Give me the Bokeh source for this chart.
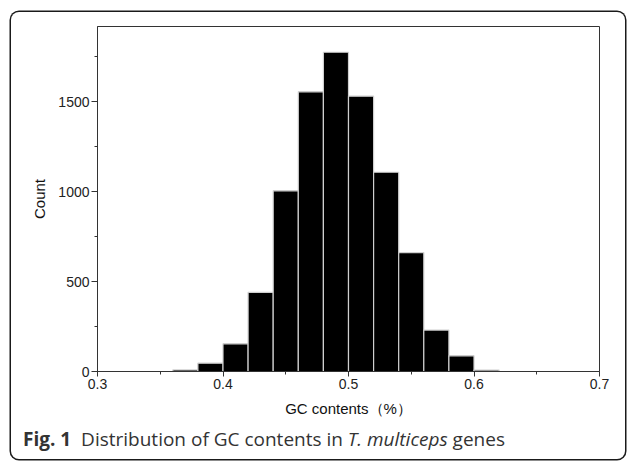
from bokeh.plotting import figure
from bokeh.layouts import column
from bokeh.models import FixedTicker, Range1d, ColumnDataSource, Div
from bokeh.embed import file_html
from bokeh.resources import INLINE

# ---- data ----
bin_left = [0.36, 0.38, 0.40, 0.42, 0.44, 0.46, 0.48, 0.50, 0.52, 0.54, 0.56, 0.58, 0.60]
bin_width = 0.02
counts = [9, 46, 154, 440, 1004, 1554, 1774, 1530, 1107, 661, 230, 87, 8]

x_ticks = [0.3, 0.4, 0.5, 0.6, 0.7]
x_tick_labels = ["0.3", "0.4", "0.5", "0.6", "0.7"]
x_minor = [0.35, 0.45, 0.55, 0.65]
y_ticks = [0, 500, 1000, 1500]
y_tick_labels = ["0", "500", "1000", "1500"]
y_minor = [250, 750, 1250, 1750]

x_title = "GC contents（%）"
y_title = "Count"
caption_parts = ["Fig. 1", "Distribution of GC contents in", "T. multiceps", "genes"]
caption_tags = ["b", None, "i", None]

# ---- histogram figure ----
src = ColumnDataSource(dict(
    left=bin_left,
    right=[b + bin_width for b in bin_left],
    top=counts,
    bottom=[0] * len(counts),
))

p = figure(width=614, height=408, output_backend="svg", toolbar_location=None,
           x_range=Range1d(0.3, 0.7), y_range=Range1d(0, 1917),
           min_border_left=86, min_border_right=26, min_border_top=14, min_border_bottom=49)
p.background_fill_color = "white"
p.border_fill_color = None
p.outline_line_color = "#333333"
p.outline_line_width = 1
p.grid.visible = False

p.quad(left="left", right="right", top="top", bottom="bottom", source=src,
       fill_color="black", line_color="#cfcfcf", line_width=1.2)

for ax in (p.xaxis[0], p.yaxis[0]):
    ax.axis_line_color = "#333333"
    ax.major_tick_line_color = "#333333"
    ax.minor_tick_line_color = "#333333"
    ax.major_tick_in = 0
    ax.minor_tick_in = 0
    ax.major_label_text_font = "Liberation Sans"
    ax.major_label_text_font_size = "14px"
    ax.major_label_text_color = "#222222"
    ax.axis_label_text_font = "Liberation Sans"
    ax.axis_label_text_font_size = "15px"
    ax.axis_label_text_font_style = "normal"
    ax.axis_label_text_color = "#111111"

xa = p.xaxis[0]
xa.ticker = FixedTicker(ticks=x_ticks, minor_ticks=x_minor)
xa.major_label_overrides = {t: l for t, l in zip(x_ticks, x_tick_labels)}
xa.major_tick_out = 5
xa.minor_tick_out = 3
xa.major_label_standoff = 2
xa.axis_label = x_title
xa.axis_label_standoff = 8

ya = p.yaxis[0]
ya.ticker = FixedTicker(ticks=y_ticks, minor_ticks=y_minor)
ya.major_label_overrides = {t: l for t, l in zip(y_ticks, y_tick_labels)}
ya.major_tick_out = 6
ya.minor_tick_out = 3
ya.major_label_standoff = 2
ya.axis_label = y_title
ya.axis_label_standoff = 7

# ---- caption (rich text: bold figure number, italic species name) ----
pieces = []
for part, tag in zip(caption_parts, caption_tags):
    if tag == "b":
        pieces.append(f'<b style="margin-right:5px">{part}</b>')
    elif tag:
        pieces.append(f"<{tag}>{part}</{tag}>")
    else:
        pieces.append(part)
caption_html = " ".join(pieces)

cap = Div(text=caption_html, width=614, height=39, margin=(0, 0, 0, 0),
          styles={"font-family": "'Open Sans', sans-serif", "font-size": "19px",
                  "color": "#333333", "line-height": "24px",
                  "padding-left": "12.5px", "padding-top": "7px",
                  "box-sizing": "border-box", "white-space": "nowrap"})

layout = column(p, cap, spacing=0,
                styles={"margin-left": "10.5px", "margin-top": "11.5px",
                        "border-radius": "8px", "box-shadow": "0 0 0 1.5px #1a1a1a"})

open("out.html", "w").write(file_html(layout, INLINE))
